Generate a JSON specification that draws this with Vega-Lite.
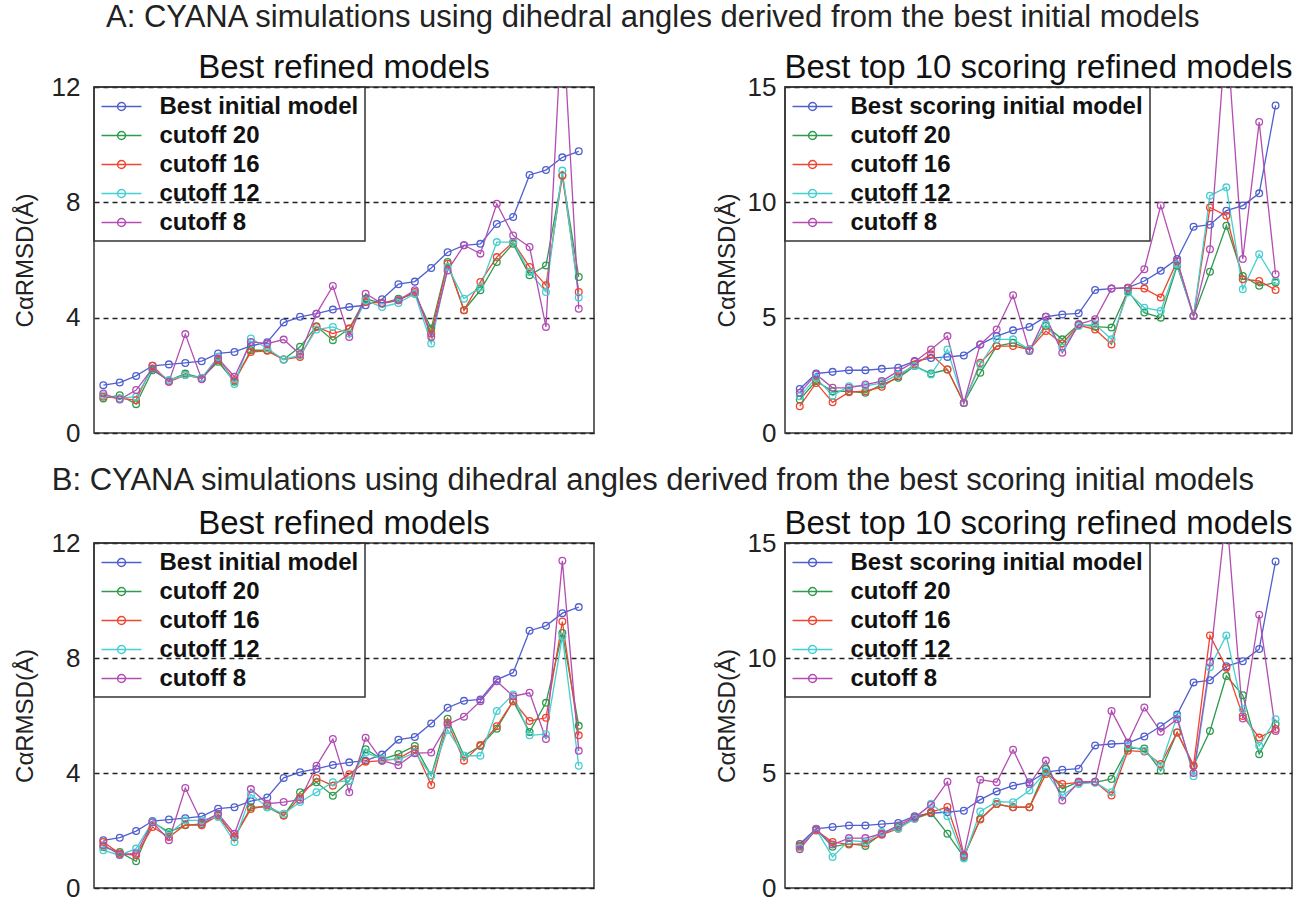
{
  "$schema": "https://vega.github.io/schema/vega-lite/v6.json",
  "background": "white",
  "padding": {"left": 12, "top": 1, "right": 2, "bottom": 0},
  "config": {
    "font": "Liberation Sans",
    "view": {"stroke": "#333", "strokeWidth": 1.5},
    "legend": {
      "orient": "top-left", "offset": 0, "title": null,
      "strokeColor": "#333", "strokeWidth": 1.5, "padding": 6.5,
      "labelFontSize": 24, "labelFontWeight": "bold", "labelColor": "#111", "labelOffset": 33, "labelLimit": 400,
      "rowPadding": 4,
      "symbolType": "M-1,0L2.33,0M0.34,0A0.33,0.33,0,1,1,1,0A0.33,0.33,0,1,1,0.34,0",
      "symbolSize": 576, "symbolStrokeWidth": 1.5, "symbolFillColor": "transparent"
    }
  },
  "datasets": {
    "A_left": [
      {"i":1,"s":"Best initial model","v":1.66},{"i":2,"s":"Best initial model","v":1.75},{"i":3,"s":"Best initial model","v":1.98},{"i":4,"s":"Best initial model","v":2.33},{"i":5,"s":"Best initial model","v":2.38},{"i":6,"s":"Best initial model","v":2.43},{"i":7,"s":"Best initial model","v":2.49},{"i":8,"s":"Best initial model","v":2.76},{"i":9,"s":"Best initial model","v":2.81},{"i":10,"s":"Best initial model","v":3.02},{"i":11,"s":"Best initial model","v":3.15},{"i":12,"s":"Best initial model","v":3.83},{"i":13,"s":"Best initial model","v":4.03},{"i":14,"s":"Best initial model","v":4.14},{"i":15,"s":"Best initial model","v":4.28},{"i":16,"s":"Best initial model","v":4.37},{"i":17,"s":"Best initial model","v":4.43},{"i":18,"s":"Best initial model","v":4.64},{"i":19,"s":"Best initial model","v":5.16},{"i":20,"s":"Best initial model","v":5.25},{"i":21,"s":"Best initial model","v":5.72},{"i":22,"s":"Best initial model","v":6.27},{"i":23,"s":"Best initial model","v":6.51},{"i":24,"s":"Best initial model","v":6.56},{"i":25,"s":"Best initial model","v":7.25},{"i":26,"s":"Best initial model","v":7.49},{"i":27,"s":"Best initial model","v":8.95},{"i":28,"s":"Best initial model","v":9.12},{"i":29,"s":"Best initial model","v":9.56},{"i":30,"s":"Best initial model","v":9.77},
      {"i":1,"s":"cutoff 20","v":1.2},{"i":2,"s":"cutoff 20","v":1.31},{"i":3,"s":"cutoff 20","v":1.0},{"i":4,"s":"cutoff 20","v":2.18},{"i":5,"s":"cutoff 20","v":1.83},{"i":6,"s":"cutoff 20","v":2.06},{"i":7,"s":"cutoff 20","v":1.91},{"i":8,"s":"cutoff 20","v":2.47},{"i":9,"s":"cutoff 20","v":1.78},{"i":10,"s":"cutoff 20","v":2.87},{"i":11,"s":"cutoff 20","v":2.87},{"i":12,"s":"cutoff 20","v":2.55},{"i":13,"s":"cutoff 20","v":2.99},{"i":14,"s":"cutoff 20","v":3.7},{"i":15,"s":"cutoff 20","v":3.22},{"i":16,"s":"cutoff 20","v":3.62},{"i":17,"s":"cutoff 20","v":4.66},{"i":18,"s":"cutoff 20","v":4.49},{"i":19,"s":"cutoff 20","v":4.66},{"i":20,"s":"cutoff 20","v":4.83},{"i":21,"s":"cutoff 20","v":3.62},{"i":22,"s":"cutoff 20","v":5.93},{"i":23,"s":"cutoff 20","v":4.26},{"i":24,"s":"cutoff 20","v":4.95},{"i":25,"s":"cutoff 20","v":5.93},{"i":26,"s":"cutoff 20","v":6.56},{"i":27,"s":"cutoff 20","v":5.47},{"i":28,"s":"cutoff 20","v":5.81},{"i":29,"s":"cutoff 20","v":8.93},{"i":30,"s":"cutoff 20","v":5.41},
      {"i":1,"s":"cutoff 16","v":1.26},{"i":2,"s":"cutoff 16","v":1.2},{"i":3,"s":"cutoff 16","v":1.14},{"i":4,"s":"cutoff 16","v":2.33},{"i":5,"s":"cutoff 16","v":1.78},{"i":6,"s":"cutoff 16","v":2.01},{"i":7,"s":"cutoff 16","v":1.89},{"i":8,"s":"cutoff 16","v":2.53},{"i":9,"s":"cutoff 16","v":1.83},{"i":10,"s":"cutoff 16","v":2.81},{"i":11,"s":"cutoff 16","v":2.85},{"i":12,"s":"cutoff 16","v":2.55},{"i":13,"s":"cutoff 16","v":2.64},{"i":14,"s":"cutoff 16","v":3.68},{"i":15,"s":"cutoff 16","v":3.45},{"i":16,"s":"cutoff 16","v":3.62},{"i":17,"s":"cutoff 16","v":4.54},{"i":18,"s":"cutoff 16","v":4.51},{"i":19,"s":"cutoff 16","v":4.6},{"i":20,"s":"cutoff 16","v":4.89},{"i":21,"s":"cutoff 16","v":3.45},{"i":22,"s":"cutoff 16","v":5.87},{"i":23,"s":"cutoff 16","v":4.26},{"i":24,"s":"cutoff 16","v":5.24},{"i":25,"s":"cutoff 16","v":6.1},{"i":26,"s":"cutoff 16","v":6.62},{"i":27,"s":"cutoff 16","v":5.76},{"i":28,"s":"cutoff 16","v":5.12},{"i":29,"s":"cutoff 16","v":8.93},{"i":30,"s":"cutoff 16","v":4.89},
      {"i":1,"s":"cutoff 12","v":1.31},{"i":2,"s":"cutoff 12","v":1.2},{"i":3,"s":"cutoff 12","v":1.26},{"i":4,"s":"cutoff 12","v":2.24},{"i":5,"s":"cutoff 12","v":1.83},{"i":6,"s":"cutoff 12","v":2.01},{"i":7,"s":"cutoff 12","v":1.91},{"i":8,"s":"cutoff 12","v":2.64},{"i":9,"s":"cutoff 12","v":1.7},{"i":10,"s":"cutoff 12","v":3.28},{"i":11,"s":"cutoff 12","v":2.93},{"i":12,"s":"cutoff 12","v":2.55},{"i":13,"s":"cutoff 12","v":2.7},{"i":14,"s":"cutoff 12","v":3.59},{"i":15,"s":"cutoff 12","v":3.68},{"i":16,"s":"cutoff 12","v":3.45},{"i":17,"s":"cutoff 12","v":4.6},{"i":18,"s":"cutoff 12","v":4.37},{"i":19,"s":"cutoff 12","v":4.51},{"i":20,"s":"cutoff 12","v":4.83},{"i":21,"s":"cutoff 12","v":3.1},{"i":22,"s":"cutoff 12","v":5.76},{"i":23,"s":"cutoff 12","v":4.66},{"i":24,"s":"cutoff 12","v":5.06},{"i":25,"s":"cutoff 12","v":6.62},{"i":26,"s":"cutoff 12","v":6.62},{"i":27,"s":"cutoff 12","v":5.58},{"i":28,"s":"cutoff 12","v":4.89},{"i":29,"s":"cutoff 12","v":9.1},{"i":30,"s":"cutoff 12","v":4.7},
      {"i":1,"s":"cutoff 8","v":1.37},{"i":2,"s":"cutoff 8","v":1.16},{"i":3,"s":"cutoff 8","v":1.49},{"i":4,"s":"cutoff 8","v":2.24},{"i":5,"s":"cutoff 8","v":1.78},{"i":6,"s":"cutoff 8","v":3.43},{"i":7,"s":"cutoff 8","v":1.86},{"i":8,"s":"cutoff 8","v":2.58},{"i":9,"s":"cutoff 8","v":1.95},{"i":10,"s":"cutoff 8","v":3.16},{"i":11,"s":"cutoff 8","v":3.1},{"i":12,"s":"cutoff 8","v":3.24},{"i":13,"s":"cutoff 8","v":2.73},{"i":14,"s":"cutoff 8","v":4.14},{"i":15,"s":"cutoff 8","v":5.1},{"i":16,"s":"cutoff 8","v":3.33},{"i":17,"s":"cutoff 8","v":4.83},{"i":18,"s":"cutoff 8","v":4.49},{"i":19,"s":"cutoff 8","v":4.6},{"i":20,"s":"cutoff 8","v":4.95},{"i":21,"s":"cutoff 8","v":3.33},{"i":22,"s":"cutoff 8","v":5.64},{"i":23,"s":"cutoff 8","v":6.51},{"i":24,"s":"cutoff 8","v":6.22},{"i":25,"s":"cutoff 8","v":7.95},{"i":26,"s":"cutoff 8","v":6.85},{"i":27,"s":"cutoff 8","v":6.45},{"i":28,"s":"cutoff 8","v":3.68},{"i":29,"s":"cutoff 8","v":14.6},{"i":30,"s":"cutoff 8","v":4.31}
    ],
    "A_right": [
      {"i":1,"s":"Best scoring initial model","v":1.91},{"i":2,"s":"Best scoring initial model","v":2.58},{"i":3,"s":"Best scoring initial model","v":2.65},{"i":4,"s":"Best scoring initial model","v":2.72},{"i":5,"s":"Best scoring initial model","v":2.72},{"i":6,"s":"Best scoring initial model","v":2.78},{"i":7,"s":"Best scoring initial model","v":2.83},{"i":8,"s":"Best scoring initial model","v":3.12},{"i":9,"s":"Best scoring initial model","v":3.25},{"i":10,"s":"Best scoring initial model","v":3.3},{"i":11,"s":"Best scoring initial model","v":3.36},{"i":12,"s":"Best scoring initial model","v":3.84},{"i":13,"s":"Best scoring initial model","v":4.2},{"i":14,"s":"Best scoring initial model","v":4.45},{"i":15,"s":"Best scoring initial model","v":4.6},{"i":16,"s":"Best scoring initial model","v":5.04},{"i":17,"s":"Best scoring initial model","v":5.14},{"i":18,"s":"Best scoring initial model","v":5.19},{"i":19,"s":"Best scoring initial model","v":6.2},{"i":20,"s":"Best scoring initial model","v":6.26},{"i":21,"s":"Best scoring initial model","v":6.3},{"i":22,"s":"Best scoring initial model","v":6.59},{"i":23,"s":"Best scoring initial model","v":7.03},{"i":24,"s":"Best scoring initial model","v":7.54},{"i":25,"s":"Best scoring initial model","v":8.94},{"i":26,"s":"Best scoring initial model","v":9.03},{"i":27,"s":"Best scoring initial model","v":9.64},{"i":28,"s":"Best scoring initial model","v":9.86},{"i":29,"s":"Best scoring initial model","v":10.39},{"i":30,"s":"Best scoring initial model","v":14.2},
      {"i":1,"s":"cutoff 20","v":1.45},{"i":2,"s":"cutoff 20","v":2.25},{"i":3,"s":"cutoff 20","v":1.81},{"i":4,"s":"cutoff 20","v":1.81},{"i":5,"s":"cutoff 20","v":1.74},{"i":6,"s":"cutoff 20","v":2.1},{"i":7,"s":"cutoff 20","v":2.39},{"i":8,"s":"cutoff 20","v":2.9},{"i":9,"s":"cutoff 20","v":2.58},{"i":10,"s":"cutoff 20","v":2.75},{"i":11,"s":"cutoff 20","v":1.3},{"i":12,"s":"cutoff 20","v":2.61},{"i":13,"s":"cutoff 20","v":3.77},{"i":14,"s":"cutoff 20","v":3.91},{"i":15,"s":"cutoff 20","v":3.62},{"i":16,"s":"cutoff 20","v":4.64},{"i":17,"s":"cutoff 20","v":4.06},{"i":18,"s":"cutoff 20","v":4.71},{"i":19,"s":"cutoff 20","v":4.61},{"i":20,"s":"cutoff 20","v":4.57},{"i":21,"s":"cutoff 20","v":6.16},{"i":22,"s":"cutoff 20","v":5.22},{"i":23,"s":"cutoff 20","v":5.0},{"i":24,"s":"cutoff 20","v":7.25},{"i":25,"s":"cutoff 20","v":5.07},{"i":26,"s":"cutoff 20","v":6.99},{"i":27,"s":"cutoff 20","v":8.99},{"i":28,"s":"cutoff 20","v":6.81},{"i":29,"s":"cutoff 20","v":6.38},{"i":30,"s":"cutoff 20","v":6.52},
      {"i":1,"s":"cutoff 16","v":1.16},{"i":2,"s":"cutoff 16","v":2.17},{"i":3,"s":"cutoff 16","v":1.33},{"i":4,"s":"cutoff 16","v":1.77},{"i":5,"s":"cutoff 16","v":1.81},{"i":6,"s":"cutoff 16","v":2.0},{"i":7,"s":"cutoff 16","v":2.46},{"i":8,"s":"cutoff 16","v":2.97},{"i":9,"s":"cutoff 16","v":3.41},{"i":10,"s":"cutoff 16","v":2.75},{"i":11,"s":"cutoff 16","v":1.3},{"i":12,"s":"cutoff 16","v":3.04},{"i":13,"s":"cutoff 16","v":3.77},{"i":14,"s":"cutoff 16","v":3.77},{"i":15,"s":"cutoff 16","v":3.62},{"i":16,"s":"cutoff 16","v":4.42},{"i":17,"s":"cutoff 16","v":3.88},{"i":18,"s":"cutoff 16","v":4.67},{"i":19,"s":"cutoff 16","v":4.49},{"i":20,"s":"cutoff 16","v":3.84},{"i":21,"s":"cutoff 16","v":6.28},{"i":22,"s":"cutoff 16","v":6.26},{"i":23,"s":"cutoff 16","v":5.87},{"i":24,"s":"cutoff 16","v":7.46},{"i":25,"s":"cutoff 16","v":5.07},{"i":26,"s":"cutoff 16","v":9.78},{"i":27,"s":"cutoff 16","v":9.42},{"i":28,"s":"cutoff 16","v":6.67},{"i":29,"s":"cutoff 16","v":6.59},{"i":30,"s":"cutoff 16","v":6.2},
      {"i":1,"s":"cutoff 12","v":1.59},{"i":2,"s":"cutoff 12","v":2.39},{"i":3,"s":"cutoff 12","v":1.62},{"i":4,"s":"cutoff 12","v":2.03},{"i":5,"s":"cutoff 12","v":2.03},{"i":6,"s":"cutoff 12","v":2.17},{"i":7,"s":"cutoff 12","v":2.54},{"i":8,"s":"cutoff 12","v":2.9},{"i":9,"s":"cutoff 12","v":2.54},{"i":10,"s":"cutoff 12","v":3.62},{"i":11,"s":"cutoff 12","v":1.3},{"i":12,"s":"cutoff 12","v":2.97},{"i":13,"s":"cutoff 12","v":4.06},{"i":14,"s":"cutoff 12","v":4.06},{"i":15,"s":"cutoff 12","v":3.62},{"i":16,"s":"cutoff 12","v":4.71},{"i":17,"s":"cutoff 12","v":3.7},{"i":18,"s":"cutoff 12","v":4.64},{"i":19,"s":"cutoff 12","v":4.71},{"i":20,"s":"cutoff 12","v":4.06},{"i":21,"s":"cutoff 12","v":6.09},{"i":22,"s":"cutoff 12","v":5.43},{"i":23,"s":"cutoff 12","v":5.29},{"i":24,"s":"cutoff 12","v":7.32},{"i":25,"s":"cutoff 12","v":5.07},{"i":26,"s":"cutoff 12","v":10.29},{"i":27,"s":"cutoff 12","v":10.65},{"i":28,"s":"cutoff 12","v":6.23},{"i":29,"s":"cutoff 12","v":7.75},{"i":30,"s":"cutoff 12","v":6.59},
      {"i":1,"s":"cutoff 8","v":1.74},{"i":2,"s":"cutoff 8","v":2.54},{"i":3,"s":"cutoff 8","v":1.96},{"i":4,"s":"cutoff 8","v":1.96},{"i":5,"s":"cutoff 8","v":2.1},{"i":6,"s":"cutoff 8","v":2.25},{"i":7,"s":"cutoff 8","v":2.68},{"i":8,"s":"cutoff 8","v":3.09},{"i":9,"s":"cutoff 8","v":3.62},{"i":10,"s":"cutoff 8","v":4.2},{"i":11,"s":"cutoff 8","v":1.3},{"i":12,"s":"cutoff 8","v":3.84},{"i":13,"s":"cutoff 8","v":4.49},{"i":14,"s":"cutoff 8","v":5.97},{"i":15,"s":"cutoff 8","v":3.55},{"i":16,"s":"cutoff 8","v":5.04},{"i":17,"s":"cutoff 8","v":3.48},{"i":18,"s":"cutoff 8","v":4.71},{"i":19,"s":"cutoff 8","v":4.93},{"i":20,"s":"cutoff 8","v":6.26},{"i":21,"s":"cutoff 8","v":6.3},{"i":22,"s":"cutoff 8","v":7.1},{"i":23,"s":"cutoff 8","v":9.86},{"i":24,"s":"cutoff 8","v":7.46},{"i":25,"s":"cutoff 8","v":5.07},{"i":26,"s":"cutoff 8","v":7.97},{"i":27,"s":"cutoff 8","v":17.6},{"i":28,"s":"cutoff 8","v":7.54},{"i":29,"s":"cutoff 8","v":13.48},{"i":30,"s":"cutoff 8","v":6.88}
    ],
    "B_left": [
      {"i":1,"s":"Best initial model","v":1.66},{"i":2,"s":"Best initial model","v":1.75},{"i":3,"s":"Best initial model","v":1.98},{"i":4,"s":"Best initial model","v":2.33},{"i":5,"s":"Best initial model","v":2.38},{"i":6,"s":"Best initial model","v":2.43},{"i":7,"s":"Best initial model","v":2.49},{"i":8,"s":"Best initial model","v":2.76},{"i":9,"s":"Best initial model","v":2.81},{"i":10,"s":"Best initial model","v":3.02},{"i":11,"s":"Best initial model","v":3.15},{"i":12,"s":"Best initial model","v":3.83},{"i":13,"s":"Best initial model","v":4.03},{"i":14,"s":"Best initial model","v":4.14},{"i":15,"s":"Best initial model","v":4.28},{"i":16,"s":"Best initial model","v":4.37},{"i":17,"s":"Best initial model","v":4.43},{"i":18,"s":"Best initial model","v":4.64},{"i":19,"s":"Best initial model","v":5.16},{"i":20,"s":"Best initial model","v":5.25},{"i":21,"s":"Best initial model","v":5.72},{"i":22,"s":"Best initial model","v":6.27},{"i":23,"s":"Best initial model","v":6.51},{"i":24,"s":"Best initial model","v":6.56},{"i":25,"s":"Best initial model","v":7.25},{"i":26,"s":"Best initial model","v":7.49},{"i":27,"s":"Best initial model","v":8.95},{"i":28,"s":"Best initial model","v":9.12},{"i":29,"s":"Best initial model","v":9.56},{"i":30,"s":"Best initial model","v":9.77},
      {"i":1,"s":"cutoff 20","v":1.43},{"i":2,"s":"cutoff 20","v":1.25},{"i":3,"s":"cutoff 20","v":0.93},{"i":4,"s":"cutoff 20","v":2.29},{"i":5,"s":"cutoff 20","v":1.95},{"i":6,"s":"cutoff 20","v":2.18},{"i":7,"s":"cutoff 20","v":2.23},{"i":8,"s":"cutoff 20","v":2.52},{"i":9,"s":"cutoff 20","v":1.77},{"i":10,"s":"cutoff 20","v":2.81},{"i":11,"s":"cutoff 20","v":2.81},{"i":12,"s":"cutoff 20","v":2.52},{"i":13,"s":"cutoff 20","v":3.33},{"i":14,"s":"cutoff 20","v":3.68},{"i":15,"s":"cutoff 20","v":3.21},{"i":16,"s":"cutoff 20","v":3.73},{"i":17,"s":"cutoff 20","v":4.83},{"i":18,"s":"cutoff 20","v":4.48},{"i":19,"s":"cutoff 20","v":4.66},{"i":20,"s":"cutoff 20","v":4.94},{"i":21,"s":"cutoff 20","v":3.91},{"i":22,"s":"cutoff 20","v":5.89},{"i":23,"s":"cutoff 20","v":4.6},{"i":24,"s":"cutoff 20","v":4.94},{"i":25,"s":"cutoff 20","v":5.54},{"i":26,"s":"cutoff 20","v":6.5},{"i":27,"s":"cutoff 20","v":5.43},{"i":28,"s":"cutoff 20","v":6.44},{"i":29,"s":"cutoff 20","v":8.87},{"i":30,"s":"cutoff 20","v":5.64},
      {"i":1,"s":"cutoff 16","v":1.6},{"i":2,"s":"cutoff 16","v":1.2},{"i":3,"s":"cutoff 16","v":1.14},{"i":4,"s":"cutoff 16","v":2.12},{"i":5,"s":"cutoff 16","v":1.77},{"i":6,"s":"cutoff 16","v":2.2},{"i":7,"s":"cutoff 16","v":2.18},{"i":8,"s":"cutoff 16","v":2.52},{"i":9,"s":"cutoff 16","v":1.77},{"i":10,"s":"cutoff 16","v":2.75},{"i":11,"s":"cutoff 16","v":2.87},{"i":12,"s":"cutoff 16","v":2.52},{"i":13,"s":"cutoff 16","v":3.16},{"i":14,"s":"cutoff 16","v":3.82},{"i":15,"s":"cutoff 16","v":3.56},{"i":16,"s":"cutoff 16","v":3.96},{"i":17,"s":"cutoff 16","v":4.39},{"i":18,"s":"cutoff 16","v":4.43},{"i":19,"s":"cutoff 16","v":4.5},{"i":20,"s":"cutoff 16","v":4.83},{"i":21,"s":"cutoff 16","v":3.58},{"i":22,"s":"cutoff 16","v":5.75},{"i":23,"s":"cutoff 16","v":4.43},{"i":24,"s":"cutoff 16","v":4.97},{"i":25,"s":"cutoff 16","v":5.63},{"i":26,"s":"cutoff 16","v":6.5},{"i":27,"s":"cutoff 16","v":5.81},{"i":28,"s":"cutoff 16","v":5.92},{"i":29,"s":"cutoff 16","v":9.27},{"i":30,"s":"cutoff 16","v":5.31},
      {"i":1,"s":"cutoff 12","v":1.31},{"i":2,"s":"cutoff 12","v":1.14},{"i":3,"s":"cutoff 12","v":1.37},{"i":4,"s":"cutoff 12","v":2.31},{"i":5,"s":"cutoff 12","v":1.89},{"i":6,"s":"cutoff 12","v":2.35},{"i":7,"s":"cutoff 12","v":2.35},{"i":8,"s":"cutoff 12","v":2.47},{"i":9,"s":"cutoff 12","v":1.6},{"i":10,"s":"cutoff 12","v":3.26},{"i":11,"s":"cutoff 12","v":2.81},{"i":12,"s":"cutoff 12","v":2.58},{"i":13,"s":"cutoff 12","v":2.99},{"i":14,"s":"cutoff 12","v":3.33},{"i":15,"s":"cutoff 12","v":3.68},{"i":16,"s":"cutoff 12","v":3.73},{"i":17,"s":"cutoff 12","v":4.71},{"i":18,"s":"cutoff 12","v":4.48},{"i":19,"s":"cutoff 12","v":4.46},{"i":20,"s":"cutoff 12","v":4.71},{"i":21,"s":"cutoff 12","v":3.91},{"i":22,"s":"cutoff 12","v":5.5},{"i":23,"s":"cutoff 12","v":4.6},{"i":24,"s":"cutoff 12","v":4.6},{"i":25,"s":"cutoff 12","v":6.16},{"i":26,"s":"cutoff 12","v":6.73},{"i":27,"s":"cutoff 12","v":5.31},{"i":28,"s":"cutoff 12","v":5.35},{"i":29,"s":"cutoff 12","v":8.75},{"i":30,"s":"cutoff 12","v":4.25},
      {"i":1,"s":"cutoff 8","v":1.49},{"i":2,"s":"cutoff 8","v":1.16},{"i":3,"s":"cutoff 8","v":1.2},{"i":4,"s":"cutoff 8","v":2.29},{"i":5,"s":"cutoff 8","v":1.66},{"i":6,"s":"cutoff 8","v":3.48},{"i":7,"s":"cutoff 8","v":2.29},{"i":8,"s":"cutoff 8","v":2.58},{"i":9,"s":"cutoff 8","v":1.89},{"i":10,"s":"cutoff 8","v":3.44},{"i":11,"s":"cutoff 8","v":2.93},{"i":12,"s":"cutoff 8","v":2.99},{"i":13,"s":"cutoff 8","v":3.07},{"i":14,"s":"cutoff 8","v":4.25},{"i":15,"s":"cutoff 8","v":5.18},{"i":16,"s":"cutoff 8","v":3.33},{"i":17,"s":"cutoff 8","v":5.23},{"i":18,"s":"cutoff 8","v":4.43},{"i":19,"s":"cutoff 8","v":4.27},{"i":20,"s":"cutoff 8","v":4.69},{"i":21,"s":"cutoff 8","v":4.71},{"i":22,"s":"cutoff 8","v":5.69},{"i":23,"s":"cutoff 8","v":5.96},{"i":24,"s":"cutoff 8","v":6.5},{"i":25,"s":"cutoff 8","v":7.19},{"i":26,"s":"cutoff 8","v":6.67},{"i":27,"s":"cutoff 8","v":6.79},{"i":28,"s":"cutoff 8","v":5.18},{"i":29,"s":"cutoff 8","v":11.38},{"i":30,"s":"cutoff 8","v":4.77}
    ],
    "B_right": [
      {"i":1,"s":"Best scoring initial model","v":1.91},{"i":2,"s":"Best scoring initial model","v":2.58},{"i":3,"s":"Best scoring initial model","v":2.65},{"i":4,"s":"Best scoring initial model","v":2.72},{"i":5,"s":"Best scoring initial model","v":2.72},{"i":6,"s":"Best scoring initial model","v":2.78},{"i":7,"s":"Best scoring initial model","v":2.83},{"i":8,"s":"Best scoring initial model","v":3.12},{"i":9,"s":"Best scoring initial model","v":3.25},{"i":10,"s":"Best scoring initial model","v":3.3},{"i":11,"s":"Best scoring initial model","v":3.36},{"i":12,"s":"Best scoring initial model","v":3.84},{"i":13,"s":"Best scoring initial model","v":4.2},{"i":14,"s":"Best scoring initial model","v":4.45},{"i":15,"s":"Best scoring initial model","v":4.6},{"i":16,"s":"Best scoring initial model","v":5.04},{"i":17,"s":"Best scoring initial model","v":5.14},{"i":18,"s":"Best scoring initial model","v":5.19},{"i":19,"s":"Best scoring initial model","v":6.2},{"i":20,"s":"Best scoring initial model","v":6.26},{"i":21,"s":"Best scoring initial model","v":6.3},{"i":22,"s":"Best scoring initial model","v":6.59},{"i":23,"s":"Best scoring initial model","v":7.03},{"i":24,"s":"Best scoring initial model","v":7.54},{"i":25,"s":"Best scoring initial model","v":8.94},{"i":26,"s":"Best scoring initial model","v":9.03},{"i":27,"s":"Best scoring initial model","v":9.64},{"i":28,"s":"Best scoring initial model","v":9.86},{"i":29,"s":"Best scoring initial model","v":10.39},{"i":30,"s":"Best scoring initial model","v":14.2},
      {"i":1,"s":"cutoff 20","v":1.8},{"i":2,"s":"cutoff 20","v":2.55},{"i":3,"s":"cutoff 20","v":1.79},{"i":4,"s":"cutoff 20","v":1.93},{"i":5,"s":"cutoff 20","v":1.83},{"i":6,"s":"cutoff 20","v":2.36},{"i":7,"s":"cutoff 20","v":2.65},{"i":8,"s":"cutoff 20","v":3.01},{"i":9,"s":"cutoff 20","v":3.27},{"i":10,"s":"cutoff 20","v":2.36},{"i":11,"s":"cutoff 20","v":1.35},{"i":12,"s":"cutoff 20","v":3.01},{"i":13,"s":"cutoff 20","v":3.65},{"i":14,"s":"cutoff 20","v":3.51},{"i":15,"s":"cutoff 20","v":3.51},{"i":16,"s":"cutoff 20","v":5.18},{"i":17,"s":"cutoff 20","v":4.31},{"i":18,"s":"cutoff 20","v":4.62},{"i":19,"s":"cutoff 20","v":4.59},{"i":20,"s":"cutoff 20","v":4.74},{"i":21,"s":"cutoff 20","v":6.07},{"i":22,"s":"cutoff 20","v":6.07},{"i":23,"s":"cutoff 20","v":5.1},{"i":24,"s":"cutoff 20","v":6.76},{"i":25,"s":"cutoff 20","v":5.32},{"i":26,"s":"cutoff 20","v":6.83},{"i":27,"s":"cutoff 20","v":9.22},{"i":28,"s":"cutoff 20","v":8.38},{"i":29,"s":"cutoff 20","v":5.82},{"i":30,"s":"cutoff 20","v":7.12},
      {"i":1,"s":"cutoff 16","v":1.85},{"i":2,"s":"cutoff 16","v":2.5},{"i":3,"s":"cutoff 16","v":2.0},{"i":4,"s":"cutoff 16","v":1.89},{"i":5,"s":"cutoff 16","v":1.93},{"i":6,"s":"cutoff 16","v":2.32},{"i":7,"s":"cutoff 16","v":2.58},{"i":8,"s":"cutoff 16","v":3.04},{"i":9,"s":"cutoff 16","v":3.3},{"i":10,"s":"cutoff 16","v":3.52},{"i":11,"s":"cutoff 16","v":1.4},{"i":12,"s":"cutoff 16","v":2.98},{"i":13,"s":"cutoff 16","v":3.65},{"i":14,"s":"cutoff 16","v":3.51},{"i":15,"s":"cutoff 16","v":3.51},{"i":16,"s":"cutoff 16","v":4.96},{"i":17,"s":"cutoff 16","v":4.52},{"i":18,"s":"cutoff 16","v":4.59},{"i":19,"s":"cutoff 16","v":4.62},{"i":20,"s":"cutoff 16","v":4.02},{"i":21,"s":"cutoff 16","v":5.97},{"i":22,"s":"cutoff 16","v":5.93},{"i":23,"s":"cutoff 16","v":5.39},{"i":24,"s":"cutoff 16","v":6.76},{"i":25,"s":"cutoff 16","v":5.32},{"i":26,"s":"cutoff 16","v":10.98},{"i":27,"s":"cutoff 16","v":9.58},{"i":28,"s":"cutoff 16","v":7.48},{"i":29,"s":"cutoff 16","v":6.54},{"i":30,"s":"cutoff 16","v":6.91},
      {"i":1,"s":"cutoff 12","v":1.75},{"i":2,"s":"cutoff 12","v":2.55},{"i":3,"s":"cutoff 12","v":1.35},{"i":4,"s":"cutoff 12","v":2.07},{"i":5,"s":"cutoff 12","v":2.0},{"i":6,"s":"cutoff 12","v":2.43},{"i":7,"s":"cutoff 12","v":2.58},{"i":8,"s":"cutoff 12","v":3.01},{"i":9,"s":"cutoff 12","v":3.66},{"i":10,"s":"cutoff 12","v":3.12},{"i":11,"s":"cutoff 12","v":1.28},{"i":12,"s":"cutoff 12","v":3.33},{"i":13,"s":"cutoff 12","v":3.75},{"i":14,"s":"cutoff 12","v":3.73},{"i":15,"s":"cutoff 12","v":4.24},{"i":16,"s":"cutoff 12","v":5.06},{"i":17,"s":"cutoff 12","v":4.02},{"i":18,"s":"cutoff 12","v":4.52},{"i":19,"s":"cutoff 12","v":4.59},{"i":20,"s":"cutoff 12","v":4.16},{"i":21,"s":"cutoff 12","v":6.18},{"i":22,"s":"cutoff 12","v":5.97},{"i":23,"s":"cutoff 12","v":5.32},{"i":24,"s":"cutoff 12","v":7.48},{"i":25,"s":"cutoff 12","v":4.86},{"i":26,"s":"cutoff 12","v":9.6},{"i":27,"s":"cutoff 12","v":10.98},{"i":28,"s":"cutoff 12","v":7.77},{"i":29,"s":"cutoff 12","v":6.18},{"i":30,"s":"cutoff 12","v":7.34},
      {"i":1,"s":"cutoff 8","v":1.68},{"i":2,"s":"cutoff 8","v":2.55},{"i":3,"s":"cutoff 8","v":1.89},{"i":4,"s":"cutoff 8","v":2.17},{"i":5,"s":"cutoff 8","v":2.17},{"i":6,"s":"cutoff 8","v":2.36},{"i":7,"s":"cutoff 8","v":2.72},{"i":8,"s":"cutoff 8","v":3.08},{"i":9,"s":"cutoff 8","v":3.61},{"i":10,"s":"cutoff 8","v":4.62},{"i":11,"s":"cutoff 8","v":1.45},{"i":12,"s":"cutoff 8","v":4.71},{"i":13,"s":"cutoff 8","v":4.6},{"i":14,"s":"cutoff 8","v":6.01},{"i":15,"s":"cutoff 8","v":4.52},{"i":16,"s":"cutoff 8","v":5.54},{"i":17,"s":"cutoff 8","v":3.8},{"i":18,"s":"cutoff 8","v":4.62},{"i":19,"s":"cutoff 8","v":4.62},{"i":20,"s":"cutoff 8","v":7.7},{"i":21,"s":"cutoff 8","v":6.33},{"i":22,"s":"cutoff 8","v":7.85},{"i":23,"s":"cutoff 8","v":6.79},{"i":24,"s":"cutoff 8","v":7.34},{"i":25,"s":"cutoff 8","v":5.0},{"i":26,"s":"cutoff 8","v":9.8},{"i":27,"s":"cutoff 8","v":16.4},{"i":28,"s":"cutoff 8","v":7.37},{"i":29,"s":"cutoff 8","v":11.88},{"i":30,"s":"cutoff 8","v":6.83}
    ]
  },
  "spacing": 18,
  "vconcat": [
    {
      "title": {"text": "A: CYANA simulations using dihedral angles derived from the best initial models", "fontSize": 31, "fontWeight": "normal", "color": "#222", "anchor": "middle", "baseline": "alphabetic", "offset": -6.5},
      "spacing": 119,
      "resolve": {"scale": {"color": "independent", "y": "independent", "x": "independent"}, "legend": {"color": "independent"}},
      "hconcat": [
        {
          "width": 500, "height": 346,
          "title": {"text": "Best refined models", "fontSize": 33, "fontWeight": "normal", "color": "#111", "frame": "group", "anchor": "middle", "baseline": "alphabetic", "offset": -37},
          "data": {"name": "A_left"},
          "mark": {"type": "line", "strokeWidth": 1.3, "clip": true, "point": {"filled": false, "size": 45, "strokeWidth": 1.3, "clip": true}},
          "encoding": {
            "x": {"field": "i", "type": "quantitative", "scale": {"domain": [0.43, 30.93], "nice": false, "zero": false}, "axis": null},
            "y": {"field": "v", "type": "quantitative", "scale": {"domain": [0, 12], "nice": false}, "axis": {"values": [0, 4, 8, 12], "ticks": false, "domain": false, "grid": true, "gridDash": [5, 4], "gridColor": "#222", "gridWidth": 1.3, "labelFontSize": 26, "labelColor": "#222", "labelPadding": 14, "title": "CαRMSD(Å)", "titleFontSize": 24, "titleFontWeight": "normal", "titleColor": "#222", "titlePadding": 14}},
            "color": {"field": "s", "type": "nominal", "scale": {"domain": ["Best initial model", "cutoff 20", "cutoff 16", "cutoff 12", "cutoff 8"], "range": ["#4f5fcf", "#2f9b4f", "#f2442e", "#46cfd0", "#b34db3"]}}
          }
        },
        {
          "width": 507, "height": 346,
          "title": {"text": "Best top 10 scoring refined models", "fontSize": 33, "fontWeight": "normal", "color": "#111", "frame": "group", "anchor": "middle", "baseline": "alphabetic", "offset": -37},
          "data": {"name": "A_right"},
          "mark": {"type": "line", "strokeWidth": 1.3, "clip": true, "point": {"filled": false, "size": 45, "strokeWidth": 1.3, "clip": true}},
          "encoding": {
            "x": {"field": "i", "type": "quantitative", "scale": {"domain": [0.1, 31], "nice": false, "zero": false}, "axis": null},
            "y": {"field": "v", "type": "quantitative", "scale": {"domain": [0, 15], "nice": false}, "axis": {"values": [0, 5, 10, 15], "ticks": false, "domain": false, "grid": true, "gridDash": [5, 4], "gridColor": "#222", "gridWidth": 1.3, "labelFontSize": 26, "labelColor": "#222", "labelPadding": 9, "title": "CαRMSD(Å)", "titleFontSize": 24, "titleFontWeight": "normal", "titleColor": "#222", "titlePadding": 8}},
            "color": {"field": "s", "type": "nominal", "scale": {"domain": ["Best scoring initial model", "cutoff 20", "cutoff 16", "cutoff 12", "cutoff 8"], "range": ["#4f5fcf", "#2f9b4f", "#f2442e", "#46cfd0", "#b34db3"]}}
          }
        }
      ]
    },
    {
      "title": {"text": "B: CYANA simulations using dihedral angles derived from the best scoring initial models", "fontSize": 31, "fontWeight": "normal", "color": "#222", "anchor": "middle", "baseline": "alphabetic", "offset": -14},
      "spacing": 119,
      "resolve": {"scale": {"color": "independent", "y": "independent", "x": "independent"}, "legend": {"color": "independent"}},
      "hconcat": [
        {
          "width": 500, "height": 345,
          "title": {"text": "Best refined models", "fontSize": 33, "fontWeight": "normal", "color": "#111", "frame": "group", "anchor": "middle", "baseline": "alphabetic", "offset": -37},
          "data": {"name": "B_left"},
          "mark": {"type": "line", "strokeWidth": 1.3, "clip": true, "point": {"filled": false, "size": 45, "strokeWidth": 1.3, "clip": true}},
          "encoding": {
            "x": {"field": "i", "type": "quantitative", "scale": {"domain": [0.43, 30.93], "nice": false, "zero": false}, "axis": null},
            "y": {"field": "v", "type": "quantitative", "scale": {"domain": [0, 12], "nice": false}, "axis": {"values": [0, 4, 8, 12], "ticks": false, "domain": false, "grid": true, "gridDash": [5, 4], "gridColor": "#222", "gridWidth": 1.3, "labelFontSize": 26, "labelColor": "#222", "labelPadding": 14, "title": "CαRMSD(Å)", "titleFontSize": 24, "titleFontWeight": "normal", "titleColor": "#222", "titlePadding": 14}},
            "color": {"field": "s", "type": "nominal", "scale": {"domain": ["Best initial model", "cutoff 20", "cutoff 16", "cutoff 12", "cutoff 8"], "range": ["#4f5fcf", "#2f9b4f", "#f2442e", "#46cfd0", "#b34db3"]}}
          }
        },
        {
          "width": 507, "height": 345,
          "title": {"text": "Best top 10 scoring refined models", "fontSize": 33, "fontWeight": "normal", "color": "#111", "frame": "group", "anchor": "middle", "baseline": "alphabetic", "offset": -37},
          "data": {"name": "B_right"},
          "mark": {"type": "line", "strokeWidth": 1.3, "clip": true, "point": {"filled": false, "size": 45, "strokeWidth": 1.3, "clip": true}},
          "encoding": {
            "x": {"field": "i", "type": "quantitative", "scale": {"domain": [0.1, 31], "nice": false, "zero": false}, "axis": null},
            "y": {"field": "v", "type": "quantitative", "scale": {"domain": [0, 15], "nice": false}, "axis": {"values": [0, 5, 10, 15], "ticks": false, "domain": false, "grid": true, "gridDash": [5, 4], "gridColor": "#222", "gridWidth": 1.3, "labelFontSize": 26, "labelColor": "#222", "labelPadding": 9, "title": "CαRMSD(Å)", "titleFontSize": 24, "titleFontWeight": "normal", "titleColor": "#222", "titlePadding": 8}},
            "color": {"field": "s", "type": "nominal", "scale": {"domain": ["Best scoring initial model", "cutoff 20", "cutoff 16", "cutoff 12", "cutoff 8"], "range": ["#4f5fcf", "#2f9b4f", "#f2442e", "#46cfd0", "#b34db3"]}}
          }
        }
      ]
    }
  ]
}
